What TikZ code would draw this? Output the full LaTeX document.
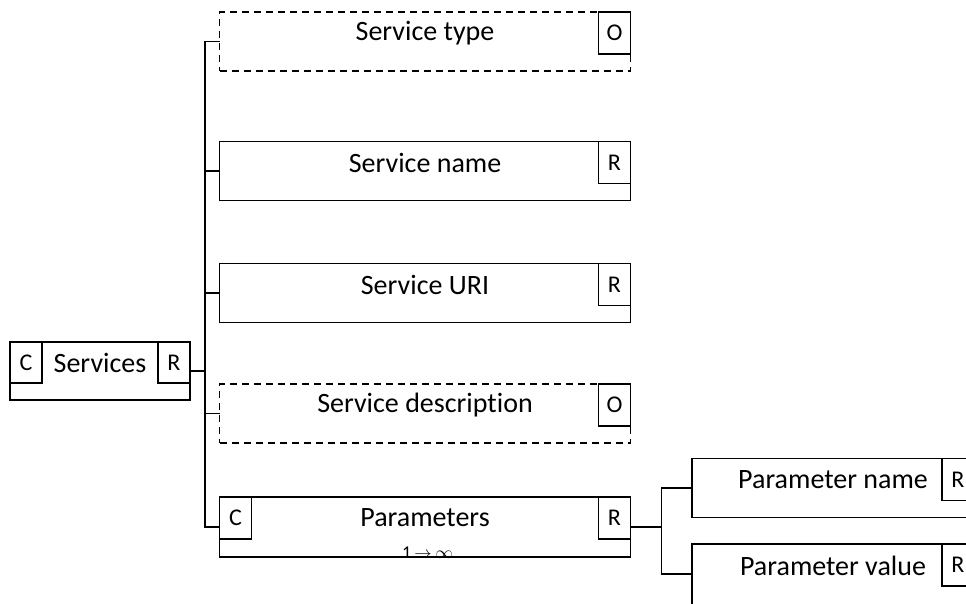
\documentclass[tikz,border=0pt]{standalone}
\usepackage{fontspec}
\setmainfont{Carlito}[Ligatures=NoCommon]
\usetikzlibrary{calc}
\usetikzlibrary{positioning}

\begin{document}
\begin{tikzpicture}
    [x=1pt,y=-1pt,
     field/.style={draw,line width=1.4pt,inner sep=0pt,outer sep=0pt,minimum width=411pt,minimum height=59pt},
     optional/.style={field,dash pattern=on 7pt off 5pt},
     tag/.style={draw,solid,fill=white,line width=1.4pt,inner sep=0pt,outer sep=0pt,minimum width=32pt,minimum height=42pt,font=\fontsize{24}{27}\selectfont},
     caption/.style={font=\fontsize{28}{32}\selectfont,inner sep=0pt},
     link/.style={line width=1.4pt}]
    \useasboundingbox (0,0) rectangle (966,603);
    \clip (0,0) rectangle (966,603);

    % root
    \node[field,minimum width=180pt,minimum height=58pt] (services) at (100,371) {};
    \node[tag,anchor=north west,minimum height=41pt] (servicesC) at (services.north west) {C};
    \node[tag,anchor=north east,minimum height=41pt] (servicesR) at (services.north east) {R};
    \node[caption] (servicesText) at ($(services.north)+(0,21)$) {Services};

    % children
    \node[optional] (stype) at (425,41.5) {};
    \node[tag,anchor=north east] (stypeTag) at (stype.north east) {O};
    \node[caption] (stypeText) at ($(stype.north)+(0,21)$) {Service type};

    \node[field] (sname) at (425,171) {};
    \node[tag,anchor=north east] (snameTag) at (sname.north east) {R};
    \node[caption] (snameText) at ($(sname.north)+(0,21)$) {Service name};

    \node[field] (suri) at (425,293) {};
    \node[tag,anchor=north east] (suriTag) at (suri.north east) {R};
    \node[caption] (suriText) at ($(suri.north)+(0,21)$) {Service URI};

    \node[optional] (sdesc) at (425,413.5) {};
    \node[tag,anchor=north east] (sdescTag) at (sdesc.north east) {O};
    \node[caption] (sdescText) at ($(sdesc.north)+(0,21)$) {Service description};

    \node[field,minimum height=60pt] (params) at (425,527) {};
    \node[tag,anchor=north west] (paramsC) at (params.north west) {C};
    \node[tag,anchor=north east] (paramsR) at (params.north east) {R};
    \node[caption] (paramsText) at ($(params.north)+(0,21)$) {Parameters};
    \node[inner sep=0pt,font=\fontsize{18}{20}\selectfont] (paramsCount) at (427.5,553) {1\kern3pt$\rightarrow$\kern4pt$\infty$};

    % grandchildren
    \node[field,minimum width=282pt] (pname) at (833,488) {};
    \node[tag,anchor=north east] (pnameTag) at (pname.north east) {R};
    \node[caption] (pnameText) at ($(pname.north)+(0,21)$) {Parameter name};

    \node[field,minimum width=282pt,minimum height=62pt] (pvalue) at (833,575) {};
    \node[tag,anchor=north east] (pvalueTag) at (pvalue.north east) {R};
    \node[caption] (pvalueText) at ($(pvalue.north)+(0,22)$) {Parameter value};

    % connectors
    \draw[line width=2.2pt] (services.east) -- ++(15,0) coordinate (hub);
    \foreach \child in {stype,sname,suri,sdesc,params}
        \draw[link] (hub) |- (\child.west);

    \draw[link] (params.east) -- ++(31,0) coordinate (phub);
    \draw[link] (phub) |- (pname.west);
    \draw[link] (phub) |- ($(pvalue.north west)+(0,30)$);
\end{tikzpicture}
\end{document}
